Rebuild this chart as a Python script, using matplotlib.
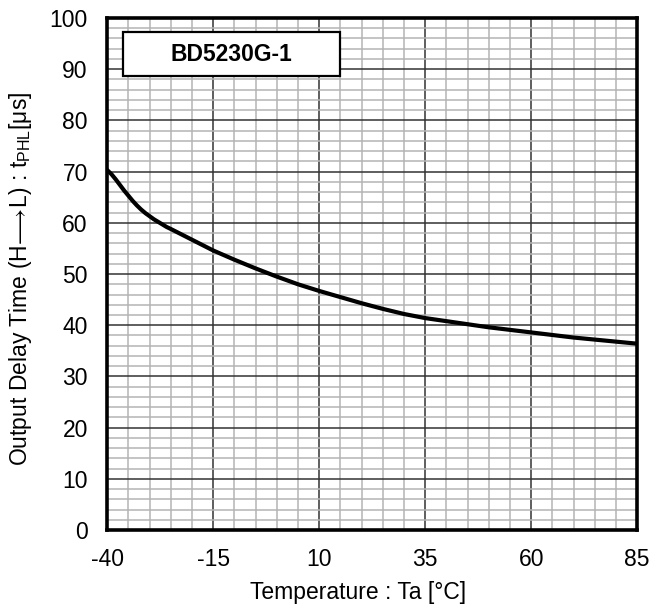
import matplotlib
matplotlib.use("Agg")
import matplotlib.pyplot as plt
from matplotlib.patches import Rectangle
import numpy as np

plt.rcParams['font.family'] = ['Liberation Sans', 'DejaVu Sans']
plt.rcParams['mathtext.fontset'] = 'custom'
plt.rcParams['mathtext.rm'] = 'Liberation Sans'
plt.rcParams['axes.unicode_minus'] = False

# curve
temp = [-40, -39, -38, -37, -36, -35, -34, -33, -32, -31, -30, -29, -28, -27,
        -26, -25, -20, -15, -10, -5, 0, 5, 10, 15, 20, 25, 30, 35, 40, 45, 50,
        55, 60, 65, 70, 75, 80, 85]
delay = [70.3, 69.5, 68.5, 67.4, 66.3, 65.3, 64.3, 63.4, 62.6, 61.9, 61.3, 60.7,
         60.2, 59.7, 59.2, 58.8, 56.7, 54.6, 52.8, 51.1, 49.5, 48.0, 46.7, 45.5,
         44.3, 43.2, 42.2, 41.4, 40.8, 40.2, 39.6, 39.1, 38.6, 38.1, 37.6, 37.2,
         36.8, 36.4]
xticks = [-40, -15, 10, 35, 60, 85]
yticks = [0, 10, 20, 30, 40, 50, 60, 70, 80, 90, 100]
label = "BD5230G-1"

fs = 16.5
fig = plt.figure(figsize=(6.7, 6.1), dpi=100)
ax = fig.add_axes([0.16, 0.131, 0.791, 0.8395])

ax.plot(temp, delay, color='black', lw=3.0, solid_capstyle='round',
        solid_joinstyle='round', zorder=3)

ax.set_xlim(-40, 85)
ax.set_ylim(0, 100)
ax.set_xticks(xticks)
ax.set_yticks(yticks)
ax.set_xticks(np.arange(-40, 86, 5), minor=True)
ax.set_yticks(np.arange(0, 101, 2), minor=True)
ax.grid(True, which='minor', color='#b4b4b4', lw=1.1, zorder=0)
ax.grid(True, which='major', color='#333333', lw=1.1, zorder=1)
ax.tick_params(which='both', length=0, labelsize=fs)
ax.tick_params(axis='x', pad=13)
ax.tick_params(axis='y', pad=14)

for s in ax.spines.values():
    s.set_linewidth(2.6)
    s.set_zorder(4)

ax.set_xlabel("Temperature : Ta [°C]", fontsize=fs)
ax.xaxis.set_label_coords(0.474, -0.1)
ax.set_ylabel(r"Output Delay Time (H$\!\longrightarrow\!$L) : t$_{\mathrm{PHL}}$[μs]",
              fontsize=fs)
ax.yaxis.set_label_coords(-0.138, 0.49)

# label box
ax.add_patch(Rectangle((0.0296, 0.887), 0.41, 0.085, transform=ax.transAxes,
                       fc='white', ec='black', lw=1.6, zorder=5))
ax.text(0.235, 0.929, label, transform=ax.transAxes, ha='center', va='center',
        fontsize=fs, fontweight='bold', zorder=6)

fig.savefig("out.png", dpi=100)
